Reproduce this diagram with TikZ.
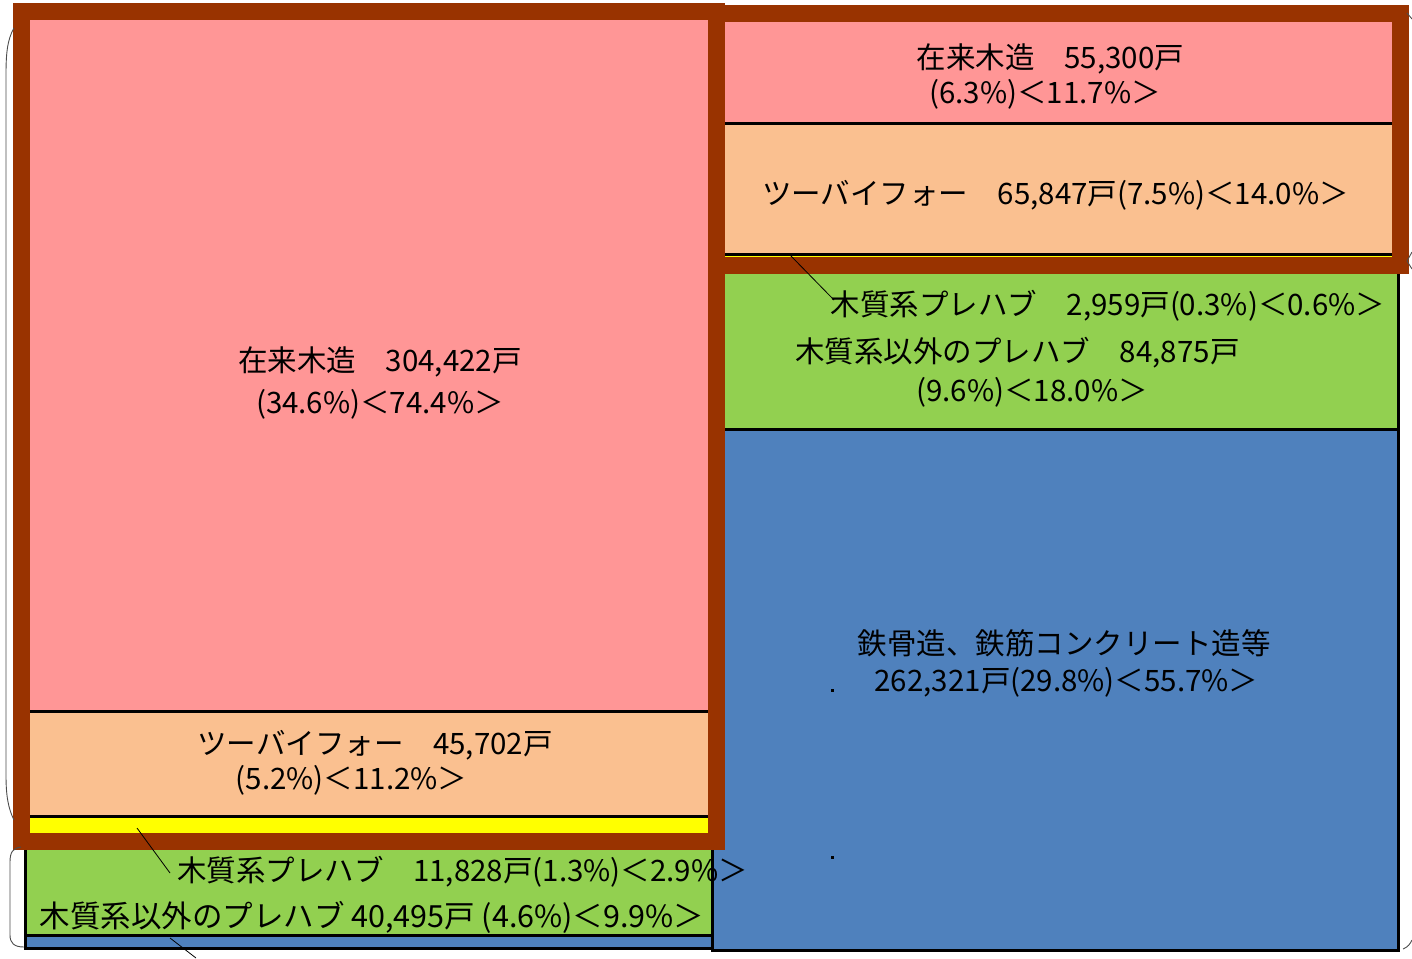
\documentclass[tikz,border=0pt]{standalone}
\usepackage{fontspec}
\setmainfont{Noto Sans CJK JP}
\definecolor{cpink}{HTML}{FF9696}
\definecolor{cpeach}{HTML}{FAC090}
\definecolor{cgreen}{HTML}{92D050}
\definecolor{cblue}{HTML}{4F81BD}
\definecolor{cyellow}{HTML}{FFFF00}
\definecolor{cbrown}{HTML}{993300}
\tikzset{
  sep/.style={draw=black, line width=3pt},
  outline/.style={draw=black, line width=3pt},
  frame/.style={draw=cbrown, line width=17pt},
  lbl/.style={font=\fontsize{29.5}{33}\selectfont, inner sep=0pt, anchor=center, yshift=-2pt},
  lblw/.style={font=\fontsize{30.5}{33}\selectfont, inner sep=0pt, anchor=center, yshift=-2pt},
  leader/.style={draw=black, line width=0.8pt},
  brace/.style={draw=black!70, line width=0.9pt},
}
\begin{document}
\begin{tikzpicture}[x=1pt,y=-1pt]
\useasboundingbox (0,0) rectangle (1412,958);
% left column fills
\fill[cpink] (25,12) rectangle (712,711);
\fill[cpeach] (25,711) rectangle (712,816);
\fill[cyellow] (25,816) rectangle (712,835);
\fill[cgreen] (25,835) rectangle (712,935);
\fill[cblue] (25,935) rectangle (712,948);
% right column fills
\fill[cpink] (712,12) rectangle (1398,123);
\fill[cpeach] (712,123) rectangle (1398,254);
\fill[cyellow] (712,254) rectangle (1398,257);
\fill[cgreen] (712,257) rectangle (1398,429);
\fill[cblue] (712,429) rectangle (1398,950);
% separators
\draw[sep] (25,711) -- (712,711);
\draw[sep] (25,816) -- (712,816);
\draw[sep] (25,935) -- (712,935);
\draw[sep] (712,123) -- (1398,123);
\draw[sep] (712,254) -- (1398,254);
\draw[sep] (712,429) -- (1398,429);
% outlines
\draw[outline] (25,12) rectangle (712,948);
\draw[outline] (712,12) rectangle (1398,950);
% brown frames
\draw[frame] (21.5,11.5) rectangle (716.5,841.5);
\draw[frame] (716.5,13.5) rectangle (1400,265.5);
% brackets
\draw[brace] (14,28) .. controls (7,40) and (6,55) .. (6,75) -- (6,775) .. controls (6,795) and (8,808) .. (14,820);
\draw[brace] (21,847) .. controls (13,848) and (10,852) .. (10,862) -- (10,935) .. controls (10,943) and (14,947) .. (24,947);
\draw[brace] (1407,13) -- (1412,19);
\draw[brace] (1412,252) -- (1407,261) -- (1412,269);
\draw[brace] (1403,949) .. controls (1408,947) and (1410,944) .. (1412,940);
% dots
\fill (830.5,688.5) rectangle (833.5,691.5);
\fill (830.5,855.5) rectangle (833.5,858.5);
% labels
\node[lbl] (l1) at (380,360) {在来木造　304,422戸};
\node[lbl] (l2) at (380,402) {(34.6\%)＜74.4\%＞};
\node[lbl] (l3) at (375,743) {ツーバイフォー　45,702戸};
\node[lbl] (l4) at (351.5,778) {(5.2\%)＜11.2\%＞};
\node[lbl] (l5) at (462.5,870) {木質系プレハブ　11,828戸(1.3\%)＜2.9\%＞};
\node[lblw] (l6) at (372,915) {木質系以外のプレハブ 40,495戸 (4.6\%)＜9.9\%＞};
\node[lbl] (r1) at (1050.5,57) {在来木造　55,300戸};
\node[lbl] (r2) at (1045,92) {(6.3\%)＜11.7\%＞};
\node[lbl] (r3) at (1055.5,193) {ツーバイフォー　65,847戸(7.5\%)＜14.0\%＞};
\node[lbl] (r4) at (1108,304) {木質系プレハブ　2,959戸(0.3\%)＜0.6\%＞};
\node[lbl] (r5) at (1017.5,351) {木質系以外のプレハブ　84,875戸};
\node[lbl] (r6) at (1032,390) {(9.6\%)＜18.0\%＞};
\node[lbl] (r7) at (1064,641) {鉄骨造、鉄筋コンクリート造等};
\node[lbl] (r8) at (1066.5,680) {262,321戸(29.8\%)＜55.7\%＞};
% leader lines
\coordinate (a1) at (137,828);
\coordinate (a2) at (170,873);
\coordinate (b1) at (170,938);
\coordinate (b2) at (196,958);
\coordinate (c1) at (790,255);
\coordinate (c2) at (834,300);
\draw[leader] (a1) -- (a2);
\draw[leader] (b1) -- (b2);
\draw[leader] (c1) -- (c2);
\end{tikzpicture}
\end{document}
